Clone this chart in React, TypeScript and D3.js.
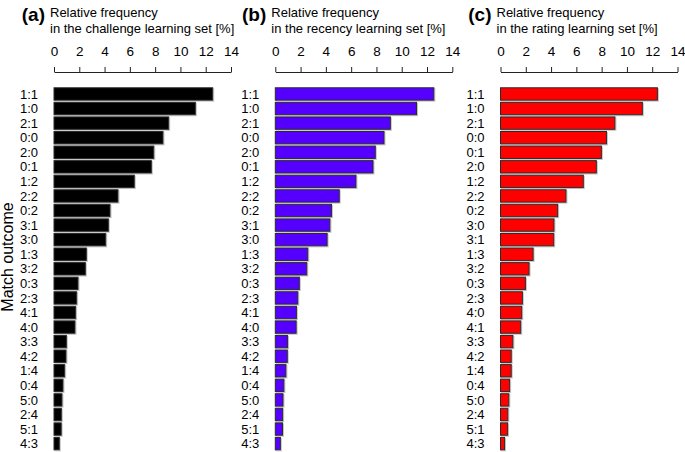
import React, { useEffect, useRef } from 'react';
import * as d3 from 'd3';

// relative frequencies [%] per learning set, sorted as in the figure
const catsA = ['1:1', '1:0', '2:1', '0:0', '2:0', '0:1', '1:2', '2:2', '0:2', '3:1', '3:0', '1:3', '3:2', '0:3', '2:3', '4:1', '4:0', '3:3', '4:2', '1:4', '0:4', '5:0', '2:4', '5:1', '4:3'];
const valsA = [12.55, 11.18, 9.07, 8.62, 7.89, 7.70, 6.35, 5.06, 4.43, 4.30, 4.09, 2.56, 2.48, 1.90, 1.79, 1.71, 1.66, 0.98, 0.95, 0.84, 0.71, 0.63, 0.58, 0.57, 0.42];

const catsB = ['1:1', '1:0', '2:1', '0:0', '2:0', '0:1', '1:2', '2:2', '0:2', '3:1', '3:0', '1:3', '3:2', '0:3', '2:3', '4:1', '4:0', '3:3', '4:2', '1:4', '0:4', '5:0', '2:4', '5:1', '4:3'];
const valsB = [12.54, 11.17, 9.10, 8.60, 7.91, 7.73, 6.38, 5.06, 4.44, 4.32, 4.10, 2.57, 2.49, 1.90, 1.78, 1.67, 1.65, 0.97, 0.95, 0.84, 0.68, 0.61, 0.58, 0.57, 0.40];

const catsC = ['1:1', '1:0', '2:1', '0:0', '0:1', '2:0', '1:2', '2:2', '0:2', '3:0', '3:1', '1:3', '3:2', '0:3', '2:3', '4:0', '4:1', '3:3', '4:2', '1:4', '0:4', '5:0', '2:4', '5:1', '4:3'];
const valsC = [12.41, 11.22, 9.05, 8.38, 7.98, 7.58, 6.55, 5.18, 4.52, 4.23, 4.21, 2.58, 2.26, 1.97, 1.73, 1.68, 1.60, 0.98, 0.85, 0.85, 0.72, 0.66, 0.58, 0.56, 0.32];

const xTicks = [0, 2, 4, 6, 8, 10, 12, 14];

const panels = [
    { letter: '(a)', set: 'challenge', cats: catsA, vals: valsA, color: '#000000', x0: 54 },
    { letter: '(b)', set: 'recency', cats: catsB, vals: valsB, color: '#5500ff', x0: 275.3 },
    { letter: '(c)', set: 'rating', cats: catsC, vals: valsC, color: '#ff0000', x0: 500.5 },
];

const width = 685;
const height = 452;
const axisY = 72;
const plotW = 177;
const font = '"Liberation Sans", Arial, Helvetica, sans-serif';

export default function App() {
    const svgRef = useRef<SVGSVGElement>(null);

    useEffect(() => {
        const svg = d3.select(svgRef.current);
        svg.selectAll('*').remove();
        svg.attr('font-family', font);

        panels.forEach(p => {
            const g = svg.append('g');

            const x = d3.scaleLinear()
                .domain([0, 14])
                .range([p.x0, p.x0 + plotW]);

            const y = d3.scaleBand()
                .domain(p.cats)
                .range([85.6, 452])
                .padding(0.15);

            // titles
            g.append('text')
                .attr('x', p.x0 - 9)
                .attr('y', 21)
                .attr('text-anchor', 'end')
                .attr('font-size', 19)
                .attr('font-weight', 'bold')
                .text(p.letter);
            g.append('text')
                .attr('x', p.x0 - 4)
                .attr('y', 16.5)
                .attr('font-size', 13)
                .text('Relative frequency');
            g.append('text')
                .attr('x', p.x0 - 4)
                .attr('y', 32.5)
                .attr('font-size', 13)
                .text(`in the ${p.set} learning set [%]`);

            // top axis
            const ax = g.append('g')
                .attr('transform', `translate(0, ${axisY})`)
                .call(d3.axisTop(x).tickValues(xTicks).tickSize(5).tickSizeOuter(0).tickPadding(11));
            ax.selectAll('text').attr('font-size', 13.5).attr('font-family', font).attr('fill', '#000');
            ax.selectAll('line, path').attr('stroke', '#222');

            // category labels
            g.append('g')
                .selectAll('text')
                .data(p.cats)
                .join('text')
                    .attr('x', p.x0 - 16)
                    .attr('y', d => (y(d) as number) + y.bandwidth() / 2)
                    .attr('dy', '0.36em')
                    .attr('text-anchor', 'end')
                    .attr('font-size', 13)
                    .text(d => d);

            // shadows
            g.append('g')
                .selectAll('rect')
                .data(p.vals)
                .join('rect')
                    .attr('x', x(0) + 1)
                    .attr('y', (d, i) => (y(p.cats[i]) as number) + 1)
                    .attr('width', d => x(d) - x(0))
                    .attr('height', y.bandwidth())
                    .attr('fill', 'none')
                    .attr('stroke', '#c4c4c4')
                    .attr('stroke-width', 1);

            // bars
            g.append('g')
                .selectAll('rect')
                .data(p.vals)
                .join('rect')
                    .attr('x', x(0))
                    .attr('y', (d, i) => y(p.cats[i]) as number)
                    .attr('width', d => x(d) - x(0))
                    .attr('height', y.bandwidth())
                    .attr('fill', p.color)
                    .attr('stroke', '#2a2a2a')
                    .attr('stroke-width', 1);
        });

        svg.append('text')
            .attr('transform', 'translate(13, 257) rotate(-90)')
            .attr('text-anchor', 'middle')
            .attr('font-size', 16)
            .text('Match outcome');
    }, []);

    return (
        <svg ref={svgRef} width={width} height={height}
            style={{ position: 'absolute', left: 0, top: 0, background: '#fff' }} />
    );
}
